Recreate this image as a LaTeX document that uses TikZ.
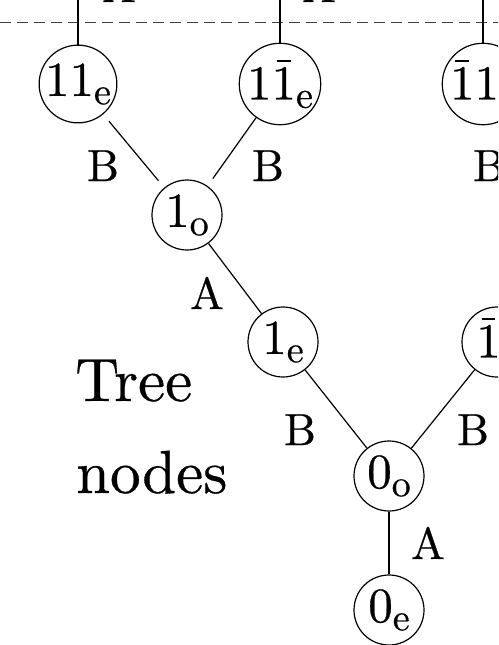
\documentclass[tikz,border=0pt]{standalone}
\usepackage{fontspec}
\setmainfont{lmroman10-regular.otf}[FakeBold=0.5]
\newcommand{\barone}{\leavevmode\hbox{1\kern-0.5em\hbox to 0.5em{\hss\raisebox{0.76em}{\rule{0.28em}{0.05em}}\hss}}}
\newcommand{\sbx}[1]{\raisebox{-0.17em}{\fontsize{38}{38}\selectfont #1}}
\begin{document}
\begin{tikzpicture}[x=1pt,y=-1pt,
  tn/.style={circle,draw,line width=1.2pt,minimum size=70pt,inner sep=0pt,font=\fontsize{49}{56}\selectfont},
  lbl/.style={anchor=base,inner sep=0pt,font=\fontsize{45}{52}\selectfont},
  bigtxt/.style={anchor=base west,inner sep=0pt,font=\fontsize{61}{70}\selectfont},
  edge/.style={line width=1.2pt},
  sep/.style={line width=1.3pt,dash pattern=on 11pt off 6pt,black!75}]
\useasboundingbox (0,0) rectangle (498,645);
\clip (0,0) rectangle (498,645);
% separator
\coordinate (dl) at (0,22.7);
\coordinate (dr) at (498,22.7);
\draw[sep] (dl) -- (dr);
% nodes
\node[tn] (n11e)  at (78,84)  {11\sbx{e}};
\node[tn] (n11be) at (280,84) {1\barone\sbx{e}};
\node[tn] (nb11e) at (483,84) {\barone1\sbx{e}};
\node[tn] (n1o)   at (187,215) {1\sbx{o}};
\node[tn] (n1e)   at (283,342) {1\sbx{e}};
\node[tn] (nb1e)  at (497,342) {\barone\sbx{e}};
\node[tn] (n0o)   at (389,476) {0\sbx{o}};
\node[tn] (n0e)   at (389,610) {0\sbx{e}};
% free ends
\coordinate (t1) at (78,-20);
\coordinate (t2) at (280,-20);
\coordinate (t3) at (483,-20);
\coordinate (b3) at (540,215);
% connectors
\draw[edge] (n11e) -- (t1);
\draw[edge] (n11be) -- (t2);
\draw[edge] (nb11e) -- (t3);
\draw[edge,shorten <=9pt,shorten >=9pt] (n11e) -- (n1o);
\draw[edge,shorten >=9pt] (n11be) -- (n1o);
\draw[edge] (nb11e) -- (b3);
\draw[edge] (n1o) -- (n1e);
\draw[edge] (n1e) -- (n0o);
\draw[edge] (nb1e) -- (n0o);
\draw[edge] (n0o) -- (n0e);
% labels
\node[lbl] (la1) at (119,2) {A};
\node[lbl] (la2) at (319,2) {A};
\node[lbl] (lb1) at (103,181) {B};
\node[lbl] (lb2) at (268,181) {B};
\node[lbl] (lb3) at (489,181) {B};
\node[lbl] (la3) at (207,309) {A};
\node[lbl] (lb4) at (300,445) {B};
\node[lbl] (lb5) at (473,445) {B};
\node[lbl] (la4) at (428,559) {A};
\node[bigtxt] (tree) at (75,401) {Tree};
\node[bigtxt] (tnodes) at (76,493) {nodes};
\end{tikzpicture}
\end{document}
